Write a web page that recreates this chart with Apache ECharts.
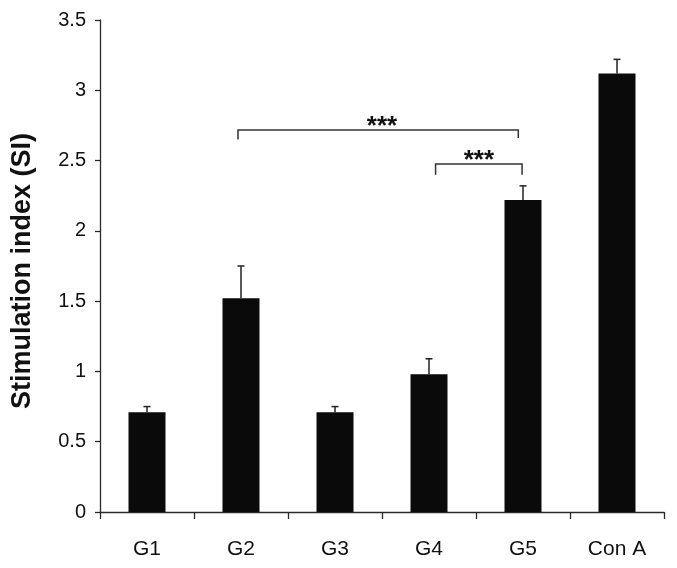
<!DOCTYPE html>
<html>
<head>
<meta charset="utf-8">
<script src="https://cdn.jsdelivr.net/npm/echarts@6/dist/echarts.min.js"></script>
<style>html,body{margin:0;padding:0;background:#fff;}#chart{width:677px;height:568px;}</style>
</head>
<body>
<div id="chart"></div>
<script>
var categories = ['G1', 'G2', 'G3', 'G4', 'G5', 'Con A'];
var means = [0.71, 1.52, 0.71, 0.98, 2.22, 3.12];
var errors = [0.04, 0.23, 0.04, 0.11, 0.10, 0.10];
var yTicks = ['0', '0.5', '1', '1.5', '2', '2.5', '3', '3.5'];
// brackets: left position, right position (category units), line value, left drop value, right drop value
var bracketLeft = [0.968, 3.07];
var bracketRight = [3.95, 3.99];
var bracketLevel = [2.717, 2.476];
var bracketDropL = [2.65, 2.40];
var bracketDropR = [2.66, 2.40];
var starLabels = ['***', '***'];
var starPos = [2.5, 3.53];

var chart = echarts.init(document.getElementById('chart'));
var FONT = 'Liberation Sans, Arial, sans-serif';
var AXC = '#2a2a2a';

function catX(api, pos) {
  var base = Math.floor(pos + 0.5);
  var frac = pos - base;
  var p = api.coord([base, 0]);
  var w = api.size([1, 0])[0];
  return p[0] + frac * w;
}

chart.setOption({
  animation: false,
  backgroundColor: '#fff',
  grid: { left: 100, right: 13, top: 20, bottom: 56, containLabel: false },
  xAxis: {
    type: 'category',
    data: categories,
    axisLine: { lineStyle: { color: AXC, width: 1.3 } },
    axisTick: { show: true, length: 7, lineStyle: { color: AXC, width: 1.3 }, alignWithLabel: false },
    axisLabel: { color: '#111', fontSize: 21, fontFamily: FONT, margin: 27 },
    splitLine: { show: false }
  },
  yAxis: {
    type: 'value',
    min: 0, max: 3.5, interval: 0.5,
    name: 'Stimulation index (SI)',
    nameLocation: 'middle',
    nameGap: 64,
    nameTextStyle: { color: '#111', fontSize: 27, fontWeight: 'bold', fontFamily: FONT, padding: [0, 10, 0, 0] },
    axisLine: { show: true, lineStyle: { color: AXC, width: 1.3 } },
    axisTick: { show: true, length: 5, lineStyle: { color: AXC, width: 1.3 } },
    axisLabel: {
      color: '#111', fontSize: 20, fontFamily: FONT, margin: 14,
      formatter: function (v) { var i = Math.round(v / 0.5); return yTicks[i]; }
    },
    splitLine: { show: false }
  },
  series: [
    {
      type: 'bar',
      data: means,
      barWidth: 37,
      itemStyle: { color: '#0a0a0a' },
      z: 2
    },
    {
      type: 'custom',
      z: 3,
      data: means.map(function (m, i) { return [i, m, m + errors[i]]; }),
      renderItem: function (params, api) {
        var p0 = api.coord([api.value(0), api.value(1)]);
        var p1 = api.coord([api.value(0), api.value(2)]);
        var cap = 3.5;
        var style = { stroke: '#222', lineWidth: 1.5, fill: null };
        return {
          type: 'group',
          children: [
            { type: 'line', shape: { x1: p0[0], y1: p0[1], x2: p1[0], y2: p1[1] }, style: style },
            { type: 'line', shape: { x1: p1[0] - cap, y1: p1[1], x2: p1[0] + cap, y2: p1[1] }, style: style }
          ]
        };
      }
    },
    {
      type: 'custom',
      z: 3,
      data: bracketLeft.map(function (l, i) { return [l, bracketRight[i], bracketLevel[i], bracketDropL[i], bracketDropR[i], starPos[i], i]; }),
      renderItem: function (params, api) {
        var xl = catX(api, api.value(0));
        var xr = catX(api, api.value(1));
        var yl = api.coord([0, api.value(2)])[1];
        var ydl = api.coord([0, api.value(3)])[1];
        var ydr = api.coord([0, api.value(4)])[1];
        var xs = catX(api, api.value(5));
        var idx = api.value(6);
        return {
          type: 'group',
          children: [
            {
              type: 'polyline',
              shape: { points: [[xl, ydl], [xl, yl], [xr, yl], [xr, ydr]] },
              style: { stroke: '#333', lineWidth: 1.5, fill: null }
            },
            {
              type: 'text',
              style: {
                x: xs, y: yl + 10,
                text: starLabels[idx],
                fill: '#111',
                font: 'bold 26px ' + FONT,
                align: 'center',
                verticalAlign: 'bottom'
              }
            }
          ]
        };
      }
    }
  ]
});
</script>
</body>
</html>
